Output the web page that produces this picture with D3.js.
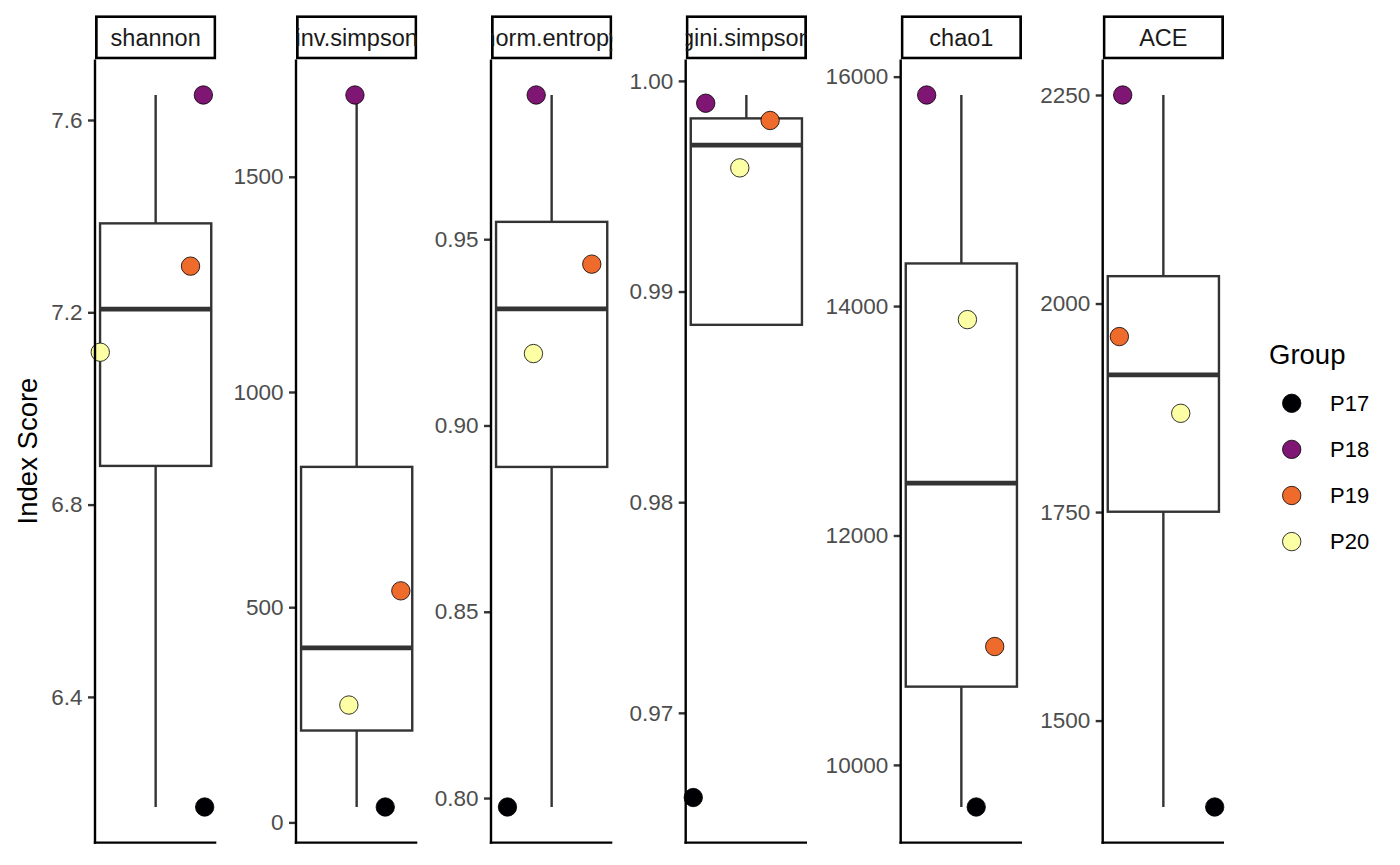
<!DOCTYPE html>
<html><head><meta charset="utf-8">
<script src="https://cdn.jsdelivr.net/npm/d3@7"></script>
<style>body{margin:0;background:#fff}</style>
</head><body><svg id="chart" width="1400" height="865"></svg>
<script>
// ---------- data ----------
const groups = ["P17", "P18", "P19", "P20"];
const groupColors = ["#000004", "#7F1673", "#EF6B2C", "#FCFFA4"];
const metrics = ["shannon", "inv.simpson", "norm.entropy", "gini.simpson", "chao1", "ACE"];

// index values, in group order P17, P18, P19, P20
const shannonValues = [6.171, 7.652, 7.296, 7.117];
const invSimpsonValues = [35.8, 1690, 538, 272.7];
const normEntropyValues = [0.7976, 0.9887, 0.9433, 0.9193];
const giniSimpsonValues = [0.96553, 0.99933, 0.99785, 0.99605];
const chao1Values = [9633, 15840, 11032, 13882];
const aceValues = [1396.4, 2250, 1960.4, 1868.4];

// jitter applied to points (horizontal in category units, vertical in data units)
const shannonJitterX = [0.485, 0.472, 0.345, -0.548];
const invSimpsonJitterX = [0.283, -0.017, 0.437, -0.077];
const normEntropyJitterX = [-0.437, -0.153, 0.397, -0.18];
const giniSimpsonJitterX = [-0.525, -0.402, 0.235, -0.065];
const chao1JitterX = [0.147, -0.343, 0.33, 0.06];
const aceJitterX = [0.508, -0.402, -0.435, 0.172];
const giniSimpsonJitterY = [0.00045, -0.00039, 0.00027, -0.00018];
const zeroJitterY = [0, 0, 0, 0];

// tick labels
const shannonTicks = ["6.4", "6.8", "7.2", "7.6"];
const invSimpsonTicks = ["0", "500", "1000", "1500"];
const normEntropyTicks = ["0.80", "0.85", "0.90", "0.95"];
const giniSimpsonTicks = ["0.97", "0.98", "0.99", "1.00"];
const chao1Ticks = ["10000", "12000", "14000", "16000"];
const aceTicks = ["1500", "1750", "2000", "2250"];

const panelData = [
  {values: shannonValues, jx: shannonJitterX, jy: zeroJitterY, ticks: shannonTicks},
  {values: invSimpsonValues, jx: invSimpsonJitterX, jy: zeroJitterY, ticks: invSimpsonTicks},
  {values: normEntropyValues, jx: normEntropyJitterX, jy: zeroJitterY, ticks: normEntropyTicks},
  {values: giniSimpsonValues, jx: giniSimpsonJitterX, jy: giniSimpsonJitterY, ticks: giniSimpsonTicks},
  {values: chao1Values, jx: chao1JitterX, jy: zeroJitterY, ticks: chao1Ticks},
  {values: aceValues, jx: aceJitterX, jy: zeroJitterY, ticks: aceTicks}
];

// ---------- layout ----------
const FONT = "'Liberation Sans', Arial, Helvetica, sans-serif";
const panelLefts = [95, 296, 491, 685.7, 900.7, 1102.7];
const panelW = 121.3;
const panelTop = 59.4, panelBottom = 842.6;
const stripTop = 15.3;
const boxWidth = 1.1; // category units

const svg = d3.select("#chart");
const color = d3.scaleOrdinal().domain(groups).range(groupColors);

function boxStats(vals) {
  const s = vals.slice().sort(d3.ascending);
  const q1 = d3.quantile(s, 0.25), med = d3.quantile(s, 0.5), q3 = d3.quantile(s, 0.75);
  const iqr = q3 - q1;
  const inside = s.filter(v => v >= q1 - 1.5 * iqr && v <= q3 + 1.5 * iqr);
  return {q1, med, q3, lo: Math.min(q1, d3.min(inside)), hi: Math.max(q3, d3.max(inside))};
}

metrics.forEach((name, i) => {
  const pd = panelData[i];
  const left = panelLefts[i];
  const shown = pd.values.map((v, k) => v + pd.jy[k]);
  const ext = d3.extent(pd.values.concat(shown));
  const pad = (ext[1] - ext[0]) * 0.05;
  const y = d3.scaleLinear().domain([ext[0] - pad, ext[1] + pad]).range([panelBottom, panelTop]);
  const x = d3.scaleLinear().domain([-0.6, 0.6]).range([left, left + panelW]);

  const g = svg.append("g");

  // box plot
  const st = boxStats(pd.values);
  const bx = g.append("g").attr("stroke", "#333333").attr("fill", "none");
  bx.append("line").attr("x1", x(0)).attr("x2", x(0)).attr("y1", y(st.q3)).attr("y2", y(st.hi)).attr("stroke-width", 2.4);
  bx.append("line").attr("x1", x(0)).attr("x2", x(0)).attr("y1", y(st.q1)).attr("y2", y(st.lo)).attr("stroke-width", 2.4);
  bx.append("rect").attr("x", x(-boxWidth / 2)).attr("width", x(boxWidth / 2) - x(-boxWidth / 2))
    .attr("y", y(st.q3)).attr("height", y(st.q1) - y(st.q3)).attr("fill", "#fff").attr("stroke-width", 2.4);
  bx.append("line").attr("x1", x(-boxWidth / 2)).attr("x2", x(boxWidth / 2))
    .attr("y1", y(st.med)).attr("y2", y(st.med)).attr("stroke-width", 4.8);

  // points
  g.append("g").selectAll("circle").data(groups).join("circle")
    .attr("cx", (d, k) => x(pd.jx[k]))
    .attr("cy", (d, k) => y(shown[k]))
    .attr("r", 9.2)
    .attr("fill", d => color(d))
    .attr("stroke", "#000")
    .attr("stroke-width", 0.8);

  // y axis
  const tickVals = pd.ticks.map(Number);
  const ax = g.append("g").attr("transform", `translate(${left},0)`)
    .call(d3.axisLeft(y).tickValues(tickVals).tickFormat((d, k) => pd.ticks[k]).tickSize(7).tickPadding(5.5));
  ax.select(".domain").remove();
  ax.selectAll(".tick line").attr("stroke", "#333333").attr("stroke-width", 2.4);
  ax.selectAll(".tick text").attr("fill", "#4D4D4D").style("font-family", FONT).style("font-size", "22.5px");
  // axis lines
  g.append("line").attr("x1", left).attr("x2", left).attr("y1", panelTop).attr("y2", panelBottom + 1.2)
    .attr("stroke", "#000").attr("stroke-width", 2.4);
  g.append("line").attr("x1", left - 1.2).attr("x2", left + panelW).attr("y1", panelBottom).attr("y2", panelBottom)
    .attr("stroke", "#000").attr("stroke-width", 2.4);

  // strip
  const clipId = "clip" + i;
  svg.append("clipPath").attr("id", clipId).append("rect")
    .attr("x", left).attr("y", stripTop).attr("width", panelW).attr("height", panelTop - stripTop);
  const sg = g.append("g").attr("clip-path", `url(#${clipId})`);
  sg.append("rect").attr("x", left + 1.3).attr("y", stripTop + 1.3).attr("width", panelW - 2.6)
    .attr("height", panelTop - stripTop - 2.6).attr("fill", "#fff").attr("stroke", "#000").attr("stroke-width", 2.8);
  sg.append("text").attr("x", left + panelW / 2).attr("y", (stripTop + panelTop) / 2 + 1)
    .attr("text-anchor", "middle").attr("dominant-baseline", "central")
    .attr("fill", "#1A1A1A").style("font-family", FONT).style("font-size", "23.5px").text(name);
});

// y-axis title
svg.append("text").attr("transform", "translate(37,451) rotate(-90)")
  .attr("text-anchor", "middle").style("font-family", FONT).style("font-size", "27.5px")
  .attr("fill", "#000").text("Index Score");

// legend
const lg = svg.append("g");
lg.append("text").attr("x", 1269).attr("y", 364).style("font-family", FONT).style("font-size", "27.5px").text("Group");
const items = lg.selectAll("g.item").data(groups).join("g").attr("class", "item")
  .attr("transform", (d, k) => `translate(1291.7,${403.3 + k * 46.1})`);
items.append("circle").attr("r", 9.2).attr("fill", d => color(d)).attr("stroke", "#000").attr("stroke-width", 0.8);
items.append("text").attr("x", 38.3).attr("dominant-baseline", "central")
  .style("font-family", FONT).style("font-size", "22px").text(d => d);
</script></body></html>
